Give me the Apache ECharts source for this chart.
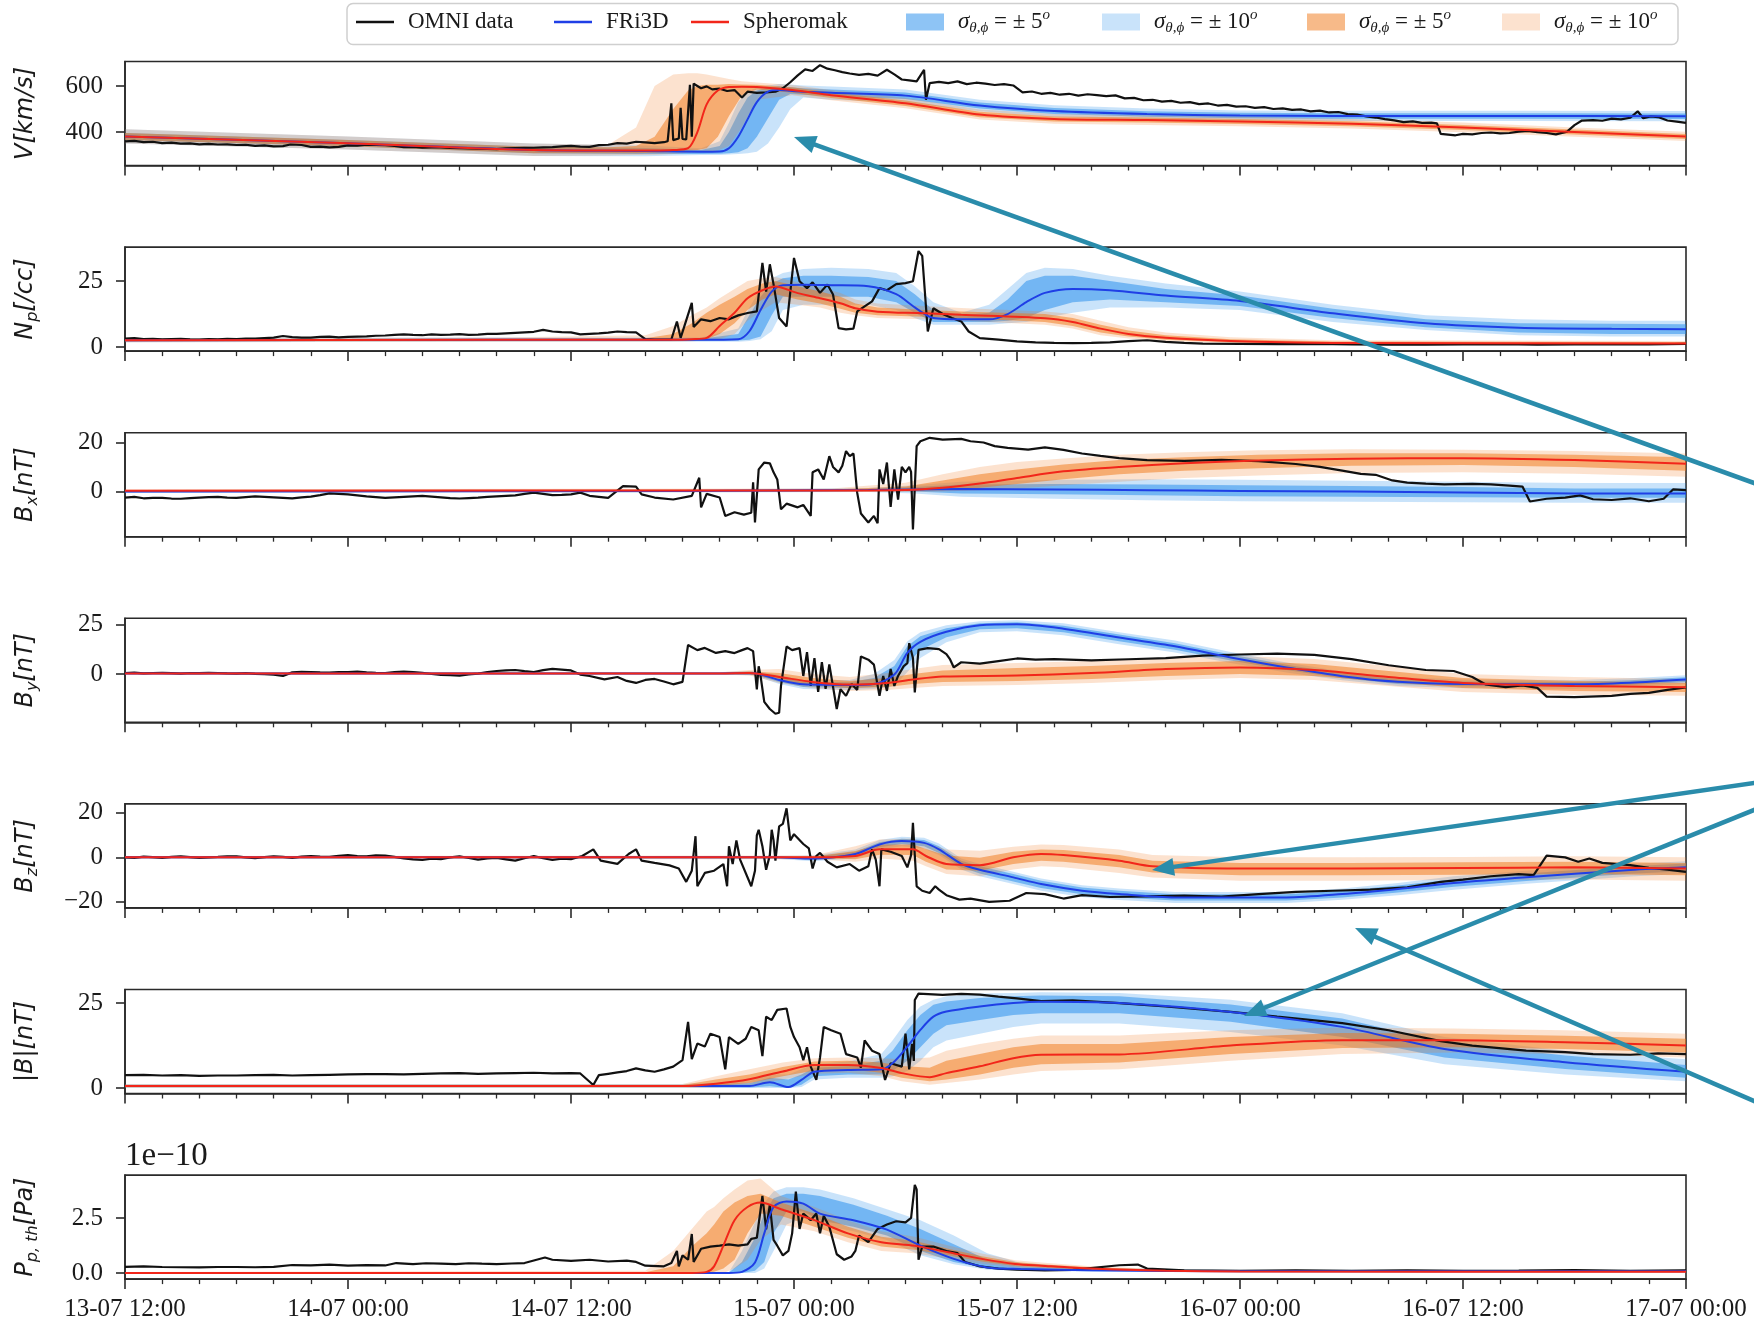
<!DOCTYPE html>
<html>
<head>
<meta charset="utf-8">
<script src="https://cdn.jsdelivr.net/npm/echarts@6/dist/echarts.min.js"></script>
<style>
html,body{margin:0;padding:0;background:#ffffff;}
#chart{width:1754px;height:1326px;}
</style>
</head>
<body>
<div id="chart"></div>
<script>
// ---- time axis: hours after 13-07 12:00 ----
const TIME_LABELS = ['13-07 12:00','14-07 00:00','14-07 12:00','15-07 00:00','15-07 12:00','16-07 00:00','16-07 12:00','17-07 00:00'];

// ---- y tick values per panel ----
const V_TICKS = [400, 600];
const NP_TICKS = [0, 25];
const BX_TICKS = [0, 20];
const BY_TICKS = [0, 25];
const BZ_TICKS = [-20, 0, 20];
const B_TICKS = [0, 25];
const P_TICKS = [0, 2.5];

// ---- OMNI measurements: [hour, value] ----
const OMNI_V = [[0,360],[0.5,362],[1,356],[1.5,358],[2,352],[2.5,354],[3,350],[3.5,351],[4,347],[4.5,349],[5,346],[5.5,347],[6,344],[6.5,345],[7,340],[7.5,342],[8,338],[8.5,339],[8.9,346],[9.5,344],[10,336],[10.5,337],[11,334],[11.5,336],[12,342],[12.5,341],[13,345],[13.5,344],[14,343],[14.5,340],[15,335],[15.5,336],[16,332],[16.5,334],[17,334],[17.5,331],[18,330],[18.5,329],[19,328],[19.5,327],[20,326],[20.5,329],[21,330],[21.5,331],[22,332],[22.5,334],[23,335],[23.5,338],[24,340],[24.5,337],[25,336],[25.5,343],[26,345],[26.5,352],[27,350],[27.5,358],[28,355],[28.5,352],[29,356],[29.2,360],[29.4,525],[29.5,365],[29.8,372],[29.9,505],[30.0,370],[30.2,368],[30.4,605],[30.5,380],[30.6,610],[30.8,600],[31,590],[31.3,598],[31.6,585],[32,588],[32.4,578],[32.8,582],[33.2,550],[33.5,575],[34,570],[34.5,572],[35,575],[35.4,590],[35.8,616],[36.2,646],[36.6,672],[37,665],[37.4,690],[37.8,675],[38.2,668],[38.6,660],[39,654],[39.5,648],[40,652],[40.5,645],[41,670],[41.4,650],[41.8,628],[42.2,624],[42.6,620],[43.0,670],[43.1,540],[43.3,612],[43.8,618],[44.3,612],[44.8,620],[45.3,608],[45.8,614],[46.3,610],[46.8,604],[47.3,608],[47.8,602],[48.3,572],[48.8,576],[49.3,566],[49.8,570],[50.3,562],[50.8,566],[51.3,558],[51.8,564],[52.3,560],[52.8,556],[53.3,559],[53.8,546],[54.3,548],[54.8,538],[55.3,540],[55.8,532],[56.3,535],[56.8,527],[57.3,530],[57.8,521],[58.3,524],[58.8,515],[59.3,518],[59.8,510],[60.3,512],[60.8,505],[61.3,508],[61.8,500],[62.3,503],[62.8,496],[63.3,498],[63.8,490],[64.3,493],[64.8,485],[65.3,487],[65.8,478],[66.3,476],[66.8,468],[67.3,463],[67.8,456],[68.3,451],[68.8,443],[69.3,446],[69.8,440],[70.3,441],[70.6,438],[70.8,392],[71.2,389],[71.6,386],[72.0,392],[72.5,390],[73.0,396],[73.5,398],[74.0,394],[74.5,396],[75.0,402],[75.5,405],[76,400],[76.5,396],[77,390],[77.6,402],[78,430],[78.4,450],[79,452],[79.5,449],[80,458],[80.5,455],[81,462],[81.4,490],[81.7,460],[82.1,468],[82.5,465],[83,450],[83.5,445],[84,440]];

const OMNI_NP = [[0,3.2],[0.5,3.4],[1,3.0],[1.5,3.1],[2,2.9],[2.5,3.0],[3,3.1],[3.5,2.9],[4,2.8],[4.5,3.0],[5,2.9],[5.5,3.1],[6,3.0],[6.5,3.2],[7,3.2],[7.5,3.4],[8,3.6],[8.5,4.2],[9,3.8],[9.5,3.6],[10,3.6],[10.5,3.9],[11,4.0],[11.5,3.7],[12,3.9],[12.5,4.0],[13,4.1],[13.5,4.3],[14,4.4],[14.5,4.6],[15,4.8],[15.5,4.6],[16,4.5],[16.5,4.8],[17,4.6],[17.5,4.7],[18,4.9],[18.5,4.6],[19,4.7],[19.5,5.0],[20,5.0],[20.5,5.2],[21,5.4],[21.5,5.6],[22,5.8],[22.5,6.5],[23,5.9],[23.5,5.7],[24,5.6],[24.5,4.8],[25,5.0],[25.5,5.2],[26,5.5],[26.5,5.9],[27,5.7],[27.5,5.6],[28,3.0],[28.5,2.8],[29.4,2.9],[29.7,9.7],[29.9,3.5],[30.5,16.7],[30.6,7.6],[31,10.5],[31.5,9.8],[32,11],[32.5,10.5],[33,12],[33.5,12.9],[34,13.5],[34.3,31.8],[34.5,21],[34.7,31.3],[34.9,23.7],[35.2,11],[35.6,7.8],[36.0,33.7],[36.3,24.9],[36.7,22.3],[37.0,24.5],[37.4,20.5],[37.8,23.7],[38.1,19.9],[38.4,7.2],[38.8,6.7],[39.2,7.0],[39.4,13.5],[39.8,15.4],[40.2,17.3],[40.6,22.3],[41,21.5],[41.5,23.8],[42,24.2],[42.4,24.9],[42.7,36.3],[42.9,34.5],[43.2,5.9],[43.5,14.7],[44,12.5],[44.5,11],[45,9.7],[45.4,5.9],[46,3.4],[47,2.8],[48,2.2],[49,1.8],[50,1.6],[51,1.5],[52,1.6],[53,1.8],[54,2.3],[55,2.6],[56,2.0],[57,1.6],[58,1.3],[60,1.2],[62,1.1],[64,1.2],[66,1.0],[68,0.9],[70,0.9],[72,1.0],[74,1.1],[76,0.9],[78,1.0],[80,1.1],[82,1.0],[84,1.2]];

const OMNI_BX = [[0,-2.5],[0.5,-2.2],[1,-2.8],[1.5,-2.6],[2,-2.6],[2.5,-2.9],[3,-3.0],[3.5,-2.7],[4,-2.5],[4.5,-2.3],[5,-2.2],[5.5,-2.5],[6,-2.6],[6.5,-2.3],[7,-2.0],[7.5,-2.2],[8,-2.4],[8.5,-2.6],[9,-2.8],[9.5,-2.4],[10,-2.1],[10.5,-1.5],[11,-0.8],[11.5,-1.0],[12,-1.2],[12.5,-1.6],[13,-2.0],[13.5,-2.3],[14,-2.6],[14.5,-2.4],[15,-2.2],[15.5,-2.0],[16,-1.8],[16.5,-2.1],[17,-2.4],[17.5,-2.7],[18,-2.9],[18.5,-2.7],[19,-2.5],[19.5,-2.2],[20,-2.0],[20.5,-1.8],[21,-1.6],[21.5,-1.0],[22,-0.5],[22.5,-1.0],[23,-1.5],[23.5,-1.4],[24,-1.2],[24.5,-0.5],[25,-1.8],[26,-2.6],[26.8,2.2],[27.5,2.0],[27.8,-1.2],[28.5,-2.5],[29.5,-3.3],[30.5,-1.8],[30.9,5.6],[31.0,-6.5],[31.3,-1.0],[32,-2.5],[32.3,-10],[32.8,-8.5],[33.3,-9.5],[33.7,-8.7],[33.8,3.7],[33.9,-12.7],[34.1,9],[34.4,11.8],[34.7,11.5],[34.9,7.8],[35.1,4.9],[35.3,-7.3],[35.6,-5],[36.2,-6.5],[36.5,-5.5],[36.9,-10],[37.0,7.8],[37.3,9],[37.6,4.9],[37.9,14.4],[38.1,10],[38.4,7.8],[38.6,10.5],[38.8,16.5],[39.0,14.4],[39.2,15.5],[39.4,-0.5],[39.6,-9],[40.0,-12.7],[40.3,-10],[40.5,-13],[40.6,9],[40.8,3],[41.0,11.8],[41.2,-6.3],[41.4,9],[41.6,-3.3],[41.8,10],[42.0,7.8],[42.2,10],[42.3,8],[42.4,-15.5],[42.6,18.5],[42.8,20.5],[43.3,21.9],[44,21.2],[45,21.5],[45.5,20.5],[46.2,20],[46.8,18.5],[47.5,17.8],[48.6,17.1],[49.5,18],[50.5,17],[51.5,15.5],[52.5,14.5],[53.5,13.6],[55,12.8],[57,12.5],[59,12.9],[61,12.4],[63,11.2],[64.3,10],[65.5,8.5],[66.5,7.2],[67.3,6.8],[68.2,4.5],[69,3.6],[70,3.2],[71,2.9],[72.5,3.1],[73.5,2.9],[74.5,2.4],[75.2,2.0],[75.6,-4.1],[76.5,-3.0],[77.5,-2.5],[78.3,-1.6],[79,-3.2],[80,-3.5],[81,-2.8],[82,-4.0],[82.8,-3.0],[83.3,0.8],[84,0.5]];

const OMNI_BY = [[0,0.5],[0.5,0.7],[1,0.3],[1.5,0.5],[2,0.6],[2.5,0.4],[3,0.2],[3.5,0.5],[4,0.4],[4.5,0.6],[5,0.5],[5.5,0.3],[6,0.2],[6.5,0.4],[7,0.1],[7.5,-0.1],[8,-0.3],[8.5,-1.0],[9,0.8],[9.5,1.1],[10,1.0],[10.5,0.8],[11,0.7],[11.5,0.9],[12,1.0],[12.5,1.2],[13,0.8],[13.5,0.6],[14,0.5],[14.5,0.9],[15,1.2],[15.5,0.9],[16,0.6],[16.5,0.0],[17,-0.5],[17.5,-0.6],[18,-0.8],[18.5,-0.2],[19,0.2],[19.5,0.9],[20,1.5],[20.5,1.8],[21,2.0],[21.5,1.4],[22,1.0],[22.5,1.9],[23,2.6],[23.5,2.2],[24,1.8],[24.5,-0.3],[25,-1.0],[25.8,-2.7],[26.5,-1.5],[27,-3.5],[27.5,-4.5],[28,-3.0],[28.5,-2.5],[29,-3.8],[29.5,-5.2],[30.0,-4.0],[30.3,14.6],[30.8,12],[31.2,13.1],[31.8,10.6],[32.3,11.5],[32.8,10.5],[33.2,12],[33.5,13],[33.8,11.5],[34.0,-7.7],[34.1,3.9],[34.2,-1],[34.4,-14],[34.7,-17.6],[35.0,-20],[35.2,-19.5],[35.3,-6],[35.6,13.8],[35.9,12],[36.3,13],[36.5,-1],[36.7,11],[36.9,-6],[37.1,8],[37.3,-9],[37.5,6],[37.7,-7.5],[37.9,4.8],[38.3,-17.6],[38.5,-7.7],[38.8,-11],[39.1,-5],[39.4,-8],[39.6,8.8],[40.0,7.2],[40.3,4.7],[40.6,-11],[40.8,-1],[41.0,-8.5],[41.2,2.5],[41.4,-6],[41.6,-1],[41.9,3.9],[42.1,5.5],[42.2,15.5],[42.4,8],[42.5,-9.3],[42.7,12.1],[43.2,13],[43.8,12.5],[44.2,10],[44.4,7.3],[44.6,3.3],[45,5.9],[46,5.2],[47,6.5],[48,7.8],[49,7.2],[50,7.5],[52,6.8],[54,7.4],[56,8.0],[58,9.2],[60,9.8],[62,10.2],[64,9.6],[66,7.5],[68,4.4],[70,2.0],[71.5,1.5],[72.5,-1.5],[73.2,-5.2],[74.3,-6.6],[75.2,-5.8],[76.0,-7.0],[76.5,-11.4],[78,-11.6],[80,-11.0],[81,-10.0],[82,-9.5],[83,-8.0],[84,-6.8]];

const OMNI_BZ = [[0,0],[0.5,-0.2],[1,0.3],[1.5,0.1],[2,-0.2],[2.5,0.2],[3,0.5],[3.5,0.1],[4,-0.3],[4.5,0.0],[5,0.2],[5.5,0.5],[6,0.4],[6.5,0.0],[7,-0.4],[7.5,0.1],[8,0.5],[8.5,0.2],[9,-0.2],[9.5,0.3],[10,0.6],[10.5,0.3],[11,0.2],[11.5,0.7],[12,1.0],[12.5,0.6],[13,0.4],[13.5,0.9],[14,0.8],[14.5,0.2],[15,-0.5],[15.5,-0.9],[16,-1.2],[16.5,-0.6],[17,-0.8],[17.5,0.0],[18,0.5],[18.5,-0.3],[19,-1.0],[19.5,-0.5],[20,-0.3],[20.5,-0.9],[21,-1.5],[21.5,-0.4],[22,0.6],[22.5,-0.4],[23,-1.2],[23.5,-0.6],[24,-0.8],[24.6,0.6],[25.2,3.6],[25.6,-1.5],[26.5,-2.9],[27.1,1.5],[27.5,3.6],[27.8,-1.5],[28.5,-2.5],[29.3,-3.6],[29.8,-5],[30.2,-11],[30.5,-6],[30.7,9.5],[30.8,-13],[31.2,-7],[31.7,-6],[32.2,-3],[32.4,-13],[32.5,5],[32.7,-3],[32.9,7.6],[33.1,-1],[33.7,-13],[33.9,-6],[34.0,9.9],[34.1,12.4],[34.3,5],[34.5,-5.6],[34.7,1],[34.8,12.4],[34.9,7.6],[35.0,-1.5],[35.2,13.9],[35.4,15],[35.6,22],[35.8,7.6],[36.0,10.4],[36.5,6],[36.8,4],[37.0,-5],[37.2,0.6],[37.4,2],[37.8,-2],[38.3,-4.5],[39,-3],[39.5,-6],[40,-4],[40.2,3.6],[40.4,-1],[40.6,-13],[40.7,3.6],[41.2,2.5],[41.8,0.6],[42.1,-4.5],[42.3,1],[42.4,15.5],[42.5,1],[42.6,-13],[42.9,-15],[43.3,-16],[43.6,-13],[43.8,-14.5],[44.2,-17],[44.9,-19],[45.5,-18.5],[46.5,-20],[47.6,-19.5],[48.5,-16],[49.5,-16.5],[50.5,-18.5],[51.5,-17],[53,-17.8],[55,-17.5],[57,-17.2],[59,-17.6],[61,-16.5],[63,-15.5],[65,-15],[67,-14.5],[69,-13.5],[70.8,-11],[72,-10],[73.5,-8.5],[75,-7.5],[75.8,-8],[76.5,0.8],[77.5,0],[78.2,-2],[78.8,-0.5],[79.5,-2.5],[81,-3.5],[82,-4.7],[83,-5.5],[84,-6.5]];

const OMNI_B = [[0,3.8],[1,3.9],[2,3.7],[3,3.8],[4,3.6],[5,3.7],[6,3.7],[7,3.8],[8,3.9],[9,3.7],[10,3.8],[11,3.9],[12,4.0],[13,4.1],[14,4.1],[15,4.0],[16,4.2],[17,4.3],[18,4.4],[19,4.2],[20,4.3],[21,4.4],[22,4.5],[23,4.3],[24,4.4],[24.5,4.3],[25.2,0.9],[25.5,3.8],[26,4.2],[26.5,4.6],[27,5.0],[27.5,5.8],[28,5.2],[28.5,4.8],[29,5.5],[29.5,6.3],[30.0,8.2],[30.3,19.5],[30.5,8.5],[30.8,13.1],[31.2,12.2],[31.5,16],[32.0,15],[32.3,5.5],[32.5,15],[33.0,13],[33.4,14.5],[33.7,18],[34.1,17],[34.3,9.4],[34.5,21],[34.8,20],[35.1,23],[35.6,23.4],[35.8,18],[36.0,15],[36.3,12],[36.5,8.2],[36.7,12],[36.9,6.3],[37.2,2.4],[37.4,9],[37.6,18],[38,17],[38.5,16],[38.8,10],[39.4,9],[39.6,6],[39.8,14],[40.2,11],[40.6,10],[40.9,2.4],[41.2,7.3],[41.8,6.3],[42.0,16],[42.2,5.5],[42.35,13],[42.45,8],[42.5,25.9],[42.7,27.8],[44,27.4],[45,27.7],[46,27.5],[47,26.9],[48,26.4],[49.3,25.6],[51,25.8],[53.5,25],[56,24],[59.5,22.4],[62,21],[65.5,19.1],[68,17],[70.8,13.8],[72.5,12.5],[75.4,11],[77.5,10.6],[79,10],[81,9.8],[82.5,10.2],[84,10]];

// thermal pressure, in units of 1e-10 Pa
const OMNI_P = [[0,0.28],[1,0.30],[2,0.27],[3,0.26],[4,0.25],[5,0.27],[6,0.27],[7,0.26],[8,0.28],[9,0.36],[10,0.34],[11,0.38],[12,0.33],[13,0.36],[14,0.34],[14.6,0.45],[15.5,0.40],[16.2,0.44],[17,0.42],[17.8,0.40],[18.5,0.44],[19.2,0.42],[20,0.40],[20.8,0.43],[21.5,0.45],[22.6,0.7],[23,0.6],[24,0.55],[25,0.6],[26,0.52],[27,0.56],[27.5,0.5],[28,0.33],[29,0.3],[29.4,0.45],[29.7,1.0],[29.8,0.3],[30,0.8],[30.3,0.6],[30.5,1.77],[30.6,0.5],[31,1.1],[31.5,1.2],[32,1.24],[32.5,1.3],[33,1.24],[33.5,1.3],[33.7,1.55],[34.0,1.6],[34.3,3.5],[34.5,1.98],[34.7,3.1],[34.9,1.5],[35.1,1.24],[35.4,0.8],[35.7,1.0],[35.9,1.8],[36.1,3.7],[36.3,2.0],[36.5,2.7],[36.9,2.4],[37.2,2.7],[37.4,1.8],[37.6,2.6],[37.9,2.1],[38.3,0.85],[38.7,0.6],[39.1,0.75],[39.3,1.0],[39.5,1.7],[40,1.4],[40.5,2.0],[41,2.2],[41.5,2.35],[42,2.3],[42.3,2.5],[42.5,4.0],[42.6,3.8],[42.7,0.6],[42.9,1.2],[43.5,1.2],[44.2,1.0],[44.8,0.9],[45.2,0.5],[46,0.3],[47,0.2],[48,0.15],[49.5,0.12],[51,0.14],[53.5,0.35],[54.5,0.38],[55,0.2],[57,0.12],[60,0.1],[63,0.12],[66,0.1],[69,0.12],[72,0.1],[75,0.11],[78,0.13],[81,0.1],[84,0.12]];

// ---- model runs: [hour, centre, low±5°, high±5°, low±10°, high±10°] ----
const FRI_V = [[0,381,366,396,350,412],[12,352,338,366,324,381],[22,322,308,336,296,350],[28,318,305,331,295,342],[31,315,305,322,300,330],[32,316,306,340,301,360],[32.5,330,308,400,303,440],[33,380,312,480,305,530],[33.5,455,330,550,308,575],[34,530,380,580,315,592],[34.6,575,460,592,350,602],[35.2,582,540,598,420,608],[35.8,579,565,594,500,606],[36.5,575,562,590,550,602],[38,570,555,585,540,598],[42,558,543,572,528,585],[46,515,502,528,490,540],[50,491,478,504,465,516],[55,478,466,490,455,502],[60,472,460,484,450,494],[65,470,458,482,448,492],[70,470,458,482,448,492],[75,470,458,482,448,492],[84,469,457,481,447,491]];
const SPH_V = [[0,381,366,396,350,412],[12,352,338,366,324,381],[22,322,308,336,296,350],[26,320,308,334,298,345],[27.5,320,308,340,300,420],[28.5,320,310,380,302,600],[29.5,322,314,500,305,650],[30.3,330,320,580,310,655],[30.8,400,322,600,312,655],[31.3,520,330,605,315,650],[31.9,580,380,605,320,640],[32.5,595,470,608,340,630],[33.2,597,560,606,420,620],[34,595,585,605,540,615],[35.9,582,570,594,560,604],[38,560,548,572,538,582],[42,525,513,537,503,548],[46,476,464,488,454,498],[50,457,446,468,436,478],[55,452,441,463,431,473],[60,446,435,457,425,467],[66,436,425,447,415,457],[72,420,409,431,399,441],[78,400,389,411,380,420],[84,381,370,392,361,401]];

const FRI_NP = [[0,2.6,2.2,3.0,1.8,3.4],[20,2.8,2.4,3.2,2.0,3.6],[31,2.8,2.4,3.2,2.0,3.6],[33,3.0,2.5,5,2.0,7],[33.6,6,2.8,12,2.3,15],[34.2,14,4,19,3,22],[34.8,21,12,24,6,26],[35.4,23.4,19,26,14,28],[36.5,23.6,19,27,16,29.5],[38,23.4,19,27,16,30],[40,23,19,26.5,16,29.5],[41.5,20,17,25,14,28],[42.5,15,13,20,11,23],[43.5,11,9.5,14,8.5,17],[45,10.5,9.5,12,8.5,13],[46.5,10.5,9.5,13,8.5,16],[47.5,12.5,10,18,9,22],[48.5,17,11,25,9.5,28],[49.5,20.5,14,27,11,30],[51,22,17,27,13,29.5],[53,21.5,18,25,15,27],[56,19.5,17,22,15,24],[60,17.4,15.5,19.5,14,21],[65,12.8,11,14.5,9.5,16],[70,9,7.5,10.5,6.5,12],[75,7.3,5.5,9,4.5,10.5],[80,6.9,5,8.8,4,10],[84,6.8,5,8.6,4,10]];
const SPH_NP = [[0,2.6,2.2,3.0,1.8,3.4],[20,2.8,2.4,3.2,2.0,3.6],[28,2.8,2.4,3.4,2.0,4.5],[29.5,2.8,2.4,5,2.0,8],[30.5,3.0,2.5,9,2.2,12],[31.3,3.5,3,13,2.5,15],[32,8,5,16,3,18.5],[32.8,13,9,19,5,22],[33.5,18.5,14,22,10,25],[34.3,21.5,18,24,14,26],[35,22.9,20,25,17,26.5],[36.2,20.4,18,23,16,24.5],[37.4,18.5,16.5,21,15,22.5],[38.5,16.6,14.5,19,13,20.5],[39.3,14.7,13,16.5,12,18],[40.5,13.4,12,15,11,16.5],[43,12.8,11.5,14,10.5,15.5],[45,12.2,11,13.5,10,14.8],[49.5,10.9,9.5,12.5,8.5,13.5],[51,9.5,8,11,7,12.5],[52.5,7,5.5,8.5,4.5,10],[54,5,4,6.3,3.3,7.5],[56,3.5,2.8,4.5,2.3,5.5],[59.5,2.3,1.8,3,1.5,3.7],[65,1.6,1.2,2.1,0.9,2.6],[84,1.4,1.0,1.9,0.8,2.3]];

const FRI_BX = [[0,0,-0.3,0.3,-0.6,0.6],[30,0.2,-0.1,0.5,-0.4,0.8],[40,0.6,0.2,1.0,-0.2,1.4],[42.5,0.8,0,1.8,-0.8,2.5],[45,1.0,-0.8,2.8,-2.2,4],[50,0.8,-1.2,3,-3,4.8],[55,0.5,-1.6,2.8,-3.6,5],[60,0.2,-2,2.5,-4,4.8],[66,0,-2.2,2.2,-4.2,4.4],[72,-0.4,-2.4,1.8,-4.4,4],[78,-0.8,-2.6,1.2,-4.6,3.4],[84,-0.8,-2.6,1.2,-4.6,3.4]];
const SPH_BX = [[0,0.3,0,0.6,-0.3,0.9],[38,0.4,0.1,0.8,-0.2,1.2],[42,0.6,0.2,2,-0.2,3.5],[44,1.5,0.5,4.5,0,7],[46,3.2,1.5,7,0.5,10],[48,5.5,3,9,1.2,12],[50.5,8.2,5,11,2.5,13.5],[53.5,10,7,12.8,4,15],[57,11.5,8.5,14,5.5,16],[61,12.6,9.5,15,6.5,16.8],[66,13.4,10.5,15.6,7.5,17.2],[72,13.6,10.8,15.6,7.8,17],[78,12.8,10,15,7.2,16.5],[84,11.3,8.5,14,6,15.5]];

const FRI_BY = [[0,0.3,0,0.6,-0.3,0.9],[32,0.3,0,0.6,-0.3,0.9],[33.8,0.4,-0.2,1,-0.6,1.6],[35.2,-3,-4,-1.5,-5,-0.5],[36.5,-5.2,-6.5,-4,-7.5,-3],[39,-5.5,-7,-4.2,-8,-3],[40.3,-5,-6.5,-2,-7.5,0],[41.4,-0.3,-4,4,-6,7],[42.1,10.6,5,14,1,16.5],[42.8,16.2,12,19,8,21],[44.2,21.2,18.5,23,16,24.5],[46,24.5,22.5,25.5,21,26.5],[48,25,23,26,21.5,27],[50.5,22.8,21,24.2,19.5,25.5],[53.5,18.3,16.5,19.8,15,21],[56.5,13.9,12.2,15.4,10.8,16.8],[59.5,8.3,6.8,9.8,5.5,11],[62.5,3.3,2,4.6,0.8,5.8],[65.5,-1.1,-2.2,0.2,-3.2,1.2],[68.5,-3.9,-5,-2.7,-6,-1.6],[72,-5,-6.2,-3.8,-7.2,-2.8],[78,-5.2,-6.4,-4,-7.4,-3],[81,-4.4,-5.6,-3.2,-6.6,-2.2],[84,-2.8,-4,-1.6,-5,-0.6]];
const SPH_BY = [[0,0.3,0,0.6,-0.3,0.9],[32,0.3,0,0.6,-0.3,0.9],[33.6,0.5,-0.2,1.2,-0.8,2],[35.2,-1.5,-3,0.5,-4.5,2.5],[37,-4,-5.8,-2,-7.2,0],[39,-5.3,-7,-3.5,-8.5,-1.5],[41,-4.5,-6.5,-2,-8,0.5],[42.4,-2.8,-5,0,-7,2.5],[44,-1.3,-4,1.8,-6,4.5],[48,-0.8,-3.5,3,-5.5,5.5],[52,0.5,-2.5,4,-4.5,6.5],[56,2.5,-1,5.5,-3,8],[60,3.3,0,6.5,-2,9],[64,2,-1,5,-3,7.5],[68,-1.5,-4,1.5,-6,4],[72,-4.5,-7,-2,-9,0],[78,-6,-8.5,-3.5,-10.5,-1.5],[84,-6.7,-9,-4.5,-11,-2.5]];

const FRI_BZ = [[0,0,-0.3,0.3,-0.6,0.6],[35,0,-0.3,0.3,-0.6,0.6],[37,-0.5,-1.2,0.3,-1.8,0.8],[39.3,1.5,0.5,2.5,-0.5,3.5],[40.6,5.8,4.5,6.8,3.5,7.8],[41.8,7.3,6,8.3,5,9.2],[43,6.5,5,7.8,4,8.8],[43.8,3.6,2,5,1,6.2],[45,-2.9,-4.5,-1.5,-5.5,-0.5],[46,-5.6,-7.3,-4,-8.5,-3],[47.8,-9,-10.8,-7.5,-12,-6.5],[49.3,-12,-13.8,-10.5,-15,-9.5],[51.5,-15,-16.6,-13.5,-17.8,-12.5],[53.5,-16.5,-18,-15,-19.2,-14],[56.5,-18,-19.4,-16.6,-20.5,-15.6],[62.5,-18,-19.4,-16.6,-20.5,-15.6],[65.5,-16.5,-18,-15,-19,-14],[68.5,-14.2,-15.8,-12.6,-17,-11.5],[71.5,-11.5,-13.2,-9.8,-14.5,-8.5],[75.4,-8.9,-10.6,-7.2,-11.8,-6],[81,-5.7,-7.4,-4,-8.6,-3],[84,-4.5,-6.2,-2.8,-7.4,-1.8]];
const SPH_BZ = [[0,0,-0.3,0.3,-0.6,0.6],[37,0,-0.4,0.4,-0.8,0.8],[39.3,0.6,-0.8,2.8,-2,5],[40.6,3.6,1.2,5.8,-0.5,8],[42.4,3.6,1,5.8,-1.5,8.5],[43.1,0.6,-2,3.8,-4,6.5],[44.2,-3,-5.5,0.8,-7.5,3.5],[46,-3.5,-6,-0.2,-8.5,3],[47.8,0,-3,2.5,-5.5,4.8],[49.3,1.5,-1.5,3.5,-4,5.8],[50.5,1,-2,3.3,-4.5,5.5],[53.5,-1.5,-4.5,1,-7,3.5],[55.3,-4,-6.8,-1.5,-9,1],[60,-5,-8,-2.5,-10.5,0],[66,-5,-8,-2.5,-10.5,0],[72,-4.8,-7.8,-2.2,-10.2,0.2],[78,-4.5,-7.5,-2,-10,0.5],[84,-5,-8,-2.5,-10.5,0]];

const FRI_B = [[0,0.6,0.3,0.9,0,1.2],[30,0.6,0.3,0.9,0,1.2],[33.6,0.6,0.2,1.4,0,2],[34.7,1.7,0.5,3,0,4],[35.7,0.3,0,2.5,0,4],[36.4,2.4,1,4,0.3,5.5],[37.1,4.8,3.5,6,2.5,7],[38.9,5.3,4,6.5,3,7.8],[40.7,5.5,4,8,3,10],[41.3,7.3,5,11,3.5,14],[42.1,12.2,8,17,5,20],[42.8,17.1,12,21.5,8,24],[43.5,21,16,24.5,12,26],[44.2,22.5,18.5,25.5,14,27],[46,24,20,26.5,16,27.8],[47.8,25,21.5,27,18,28],[49.3,25.4,22,27.2,19,28.2],[53.5,25,22,27,19,28],[59.5,22.4,19.5,24.6,16.5,26],[65.5,18,15,20.5,12.5,22],[71,11.5,9,13.5,7,15],[77.5,7.6,5.6,9.6,4,11],[84,4.8,3,6.8,2,8.5]];
const SPH_B = [[0,0.6,0.3,0.9,0,1.2],[30,0.6,0.3,0.9,0,1.2],[31.8,1.3,0.6,2.5,0.2,3.5],[33.6,2.6,1.5,4,0.8,5.5],[35.4,4.9,3.5,6.2,2.5,7.5],[37.1,6.8,5.2,7.8,4.2,8.8],[38.9,6.8,5.5,8,4.5,9],[40.7,5.9,4.5,7.5,3.5,8.8],[41.8,4.4,3,6.5,2,8.5],[43.3,3.2,2,6,1,9],[44.2,4.4,2.5,8,1.5,11],[46,6.4,4,10,2.5,13],[47.8,8.8,6,12,4,14.5],[49.3,9.8,7,13,5,15.5],[53.5,9.9,7.5,13,5.5,15.5],[59.5,12.5,10,15,8,17],[65.5,14.1,11.8,16.2,10,17.8],[71.5,14.1,12,16,10.5,17.5],[77.5,13.5,11.5,15.4,10,17],[84,12.5,10.5,14.5,9,16]];

const FRI_P = [[0,0,0,0.02,0,0.04],[32.5,0,0,0.02,0,0.04],[33.2,0.05,0,0.5,0,1],[33.9,0.48,0.1,1.6,0,2.3],[34.4,1.8,0.5,2.7,0.2,3.2],[34.9,3.0,1.8,3.4,1,3.7],[35.6,3.25,2.8,3.6,2.2,3.9],[36.5,3.15,2.8,3.6,2.5,3.9],[37.4,2.7,2.4,3.5,2.2,3.8],[39.2,2.4,2.1,3.1,1.9,3.4],[41,1.97,1.7,2.6,1.5,2.9],[42.8,1.24,1.0,2.0,0.8,2.4],[44.6,0.64,0.5,1.3,0.4,1.7],[46.4,0.25,0.2,0.6,0.15,0.9],[48.2,0.18,0.12,0.3,0.1,0.45],[52,0.12,0.08,0.18,0.06,0.22],[60,0.08,0.05,0.12,0.04,0.15],[84,0.08,0.05,0.12,0.04,0.15]];
const SPH_P = [[0,0,0,0.02,0,0.04],[28,0,0,0.03,0,0.1],[29.5,0,0,0.3,0,1],[30.5,0,0,1.2,0,2],[31.3,0.05,0,1.8,0,2.8],[31.7,0.3,0.05,2.2,0,3],[32.2,1.24,0.2,2.8,0,3.4],[32.8,2.4,0.6,3.2,0.2,3.8],[33.5,3.0,1.8,3.5,0.6,4.2],[34.2,3.2,2.7,3.6,1.5,4.3],[35.3,2.9,2.6,3.2,2.2,3.5],[37.1,2.4,2.1,2.7,1.9,3.0],[38.9,1.8,1.6,2.1,1.4,2.4],[40.7,1.4,1.2,1.65,1.0,1.9],[42.5,1.24,1.05,1.45,0.9,1.65],[44.3,0.94,0.8,1.1,0.65,1.25],[46.1,0.64,0.52,0.76,0.42,0.88],[47.9,0.41,0.32,0.5,0.25,0.58],[49.3,0.33,0.25,0.4,0.2,0.47],[52,0.2,0.15,0.26,0.12,0.3],[56,0.1,0.07,0.14,0.05,0.17],[60,0.06,0.04,0.09,0.03,0.11],[84,0.05,0.03,0.08,0.02,0.1]];

// ---- panel configuration ----
const PANELS = [
  { omni: OMNI_V,  fri: FRI_V,  sph: SPH_V,  min: 255,   max: 706,  ticks: V_TICKS,  dec: 0, name: '{m|V[km/s]}' },
  { omni: OMNI_NP, fri: FRI_NP, sph: SPH_NP, min: -1.5,  max: 37.8, ticks: NP_TICKS, dec: 0, name: '{m|N}{sb|p}{m|[/cc]}' },
  { omni: OMNI_BX, fri: FRI_BX, sph: SPH_BX, min: -18.5, max: 24,   ticks: BX_TICKS, dec: 0, name: '{m|B}{sb|x}{m|[nT]}' },
  { omni: OMNI_BY, fri: FRI_BY, sph: SPH_BY, min: -24.3, max: 28,   ticks: BY_TICKS, dec: 0, name: '{m|B}{sb|y}{m|[nT]}' },
  { omni: OMNI_BZ, fri: FRI_BZ, sph: SPH_BZ, min: -22.7, max: 24,   ticks: BZ_TICKS, dec: 0, name: '{m|B}{sb|z}{m|[nT]}' },
  { omni: OMNI_B,  fri: FRI_B,  sph: SPH_B,  min: -1.6,  max: 29,   ticks: B_TICKS,  dec: 0, name: '{m||B|[nT]}' },
  { omni: OMNI_P,  fri: FRI_P,  sph: SPH_P,  min: -0.28, max: 4.45, ticks: P_TICKS,  dec: 1, name: '{m|P}{sb|p, th}{m|[Pa]}' }
];

// ---- styling ----
const SERIF = 'Liberation Serif';
const INK = '#1a1a1a';
const C_OMNI = '#111111', C_FRI = '#1f3fe6', C_SPH = '#f2261a';
const C_FRI5 = 'rgba(30,138,235,0.50)', C_FRI10 = 'rgba(30,138,235,0.24)';
const C_SPH5 = 'rgba(240,118,20,0.50)', C_SPH10 = 'rgba(240,125,35,0.22)';
const ARROW = '#2a8cab';

const GRID_LEFT = 125, GRID_RIGHT = 68, GRID_TOP0 = 61.5, GRID_STEP = 185.6, GRID_H = 104;

const fmtTick = dec => v => Number(v).toFixed(dec).replace('-', '\u2212');

const grids = [], xAxes = [], yAxes = [], series = [];

function bandSeries(rows, lo, hi, name, color, gi) {
  return {
    type: 'custom', name, xAxisIndex: gi, yAxisIndex: gi, silent: true, z: 1,
    itemStyle: { color },
    data: [[rows[0][0], rows[0][lo]]],
    renderItem: (params, api) => {
      const upper = rows.map(r => api.coord([r[0], r[hi]]));
      const lower = rows.map(r => api.coord([r[0], r[lo]])).reverse();
      return { type: 'polygon', shape: { points: upper.concat(lower) }, style: { fill: color } };
    }
  };
}

PANELS.forEach((p, gi) => {
  grids.push({
    left: GRID_LEFT, right: GRID_RIGHT, top: GRID_TOP0 + GRID_STEP * gi, height: GRID_H,
    show: true, borderColor: '#2a2a2a', borderWidth: 1.6, backgroundColor: 'transparent'
  });
  const last = gi === PANELS.length - 1;
  xAxes.push({
    type: 'value', gridIndex: gi, min: 0, max: 84, interval: 12,
    axisLine: { show: true, onZero: false, lineStyle: { color: '#2a2a2a', width: 1.6 } },
    axisTick: { show: true, length: 10, lineStyle: { color: '#2a2a2a', width: 1.6 } },
    minorTick: { show: true, splitNumber: 6, length: 5, lineStyle: { color: '#2a2a2a', width: 1.3 } },
    splitLine: { show: false }, minorSplitLine: { show: false },
    axisLabel: {
      show: last, margin: 18, fontFamily: SERIF, fontSize: 25, color: INK,
      showMinLabel: true, showMaxLabel: true,
      formatter: v => TIME_LABELS[Math.round(v / 12)]
    }
  });
  yAxes.push({
    type: 'value', gridIndex: gi, min: p.min, max: p.max,
    name: p.name, nameLocation: 'middle', nameRotate: 90, nameGap: 84,
    nameTextStyle: {
      color: INK,
      rich: {
        m: { fontFamily: 'DejaVu Sans', fontStyle: 'italic', fontSize: 24, lineHeight: 30, color: INK },
        sb: { fontFamily: 'DejaVu Sans', fontStyle: 'italic', fontSize: 16, lineHeight: 16, verticalAlign: 'bottom', color: INK }
      }
    },
    axisLine: { show: true, onZero: false, lineStyle: { color: '#2a2a2a', width: 1.6 } },
    axisTick: { show: true, length: 9, customValues: p.ticks, lineStyle: { color: '#2a2a2a', width: 1.6 } },
    axisLabel: { customValues: p.ticks, formatter: fmtTick(p.dec), fontFamily: SERIF, fontSize: 25, color: INK, margin: 22 },
    splitLine: { show: false }
  });

  // uncertainty envelopes
  series.push(bandSeries(p.fri, 4, 5, 'fri10', C_FRI10, gi));
  series.push(bandSeries(p.fri, 2, 3, 'fri5', C_FRI5, gi));
  series.push(bandSeries(p.sph, 4, 5, 'sph10', C_SPH10, gi));
  series.push(bandSeries(p.sph, 2, 3, 'sph5', C_SPH5, gi));

  // measurements and model centre lines
  series.push({
    type: 'line', name: 'OMNI data', xAxisIndex: gi, yAxisIndex: gi, data: p.omni,
    symbol: 'none', showSymbol: false, z: 3,
    lineStyle: { color: C_OMNI, width: 2.2 }, itemStyle: { color: C_OMNI }
  });
  series.push({
    type: 'line', name: 'FRi3D', xAxisIndex: gi, yAxisIndex: gi, data: p.fri.map(r => [r[0], r[1]]),
    symbol: 'none', showSymbol: false, smooth: 0.3, z: 4,
    lineStyle: { color: C_FRI, width: 2 }, itemStyle: { color: C_FRI }
  });
  series.push({
    type: 'line', name: 'Spheromak', xAxisIndex: gi, yAxisIndex: gi, data: p.sph.map(r => [r[0], r[1]]),
    symbol: 'none', showSymbol: false, smooth: 0.3, z: 5,
    lineStyle: { color: C_SPH, width: 2 }, itemStyle: { color: C_SPH }
  });
});

// ---- legend: one entry per component so each sits at its own slot ----
const sigmaLabel = deg => '{s|\u03c3}{sb|\u03b8,\u03d5}{t| = \u00b1 ' + deg + '}{sp|o}';
const LEGEND_TEXT = {
  'OMNI data': 'OMNI data', 'FRi3D': 'FRi3D', 'Spheromak': 'Spheromak',
  'fri5': sigmaLabel(5), 'fri10': sigmaLabel(10), 'sph5': sigmaLabel(5), 'sph10': sigmaLabel(10)
};
const legendRich = {
  s: { fontFamily: SERIF, fontStyle: 'italic', fontSize: 23, lineHeight: 28, color: INK },
  sb: { fontFamily: SERIF, fontStyle: 'italic', fontSize: 15, lineHeight: 15, verticalAlign: 'bottom', color: INK },
  t: { fontFamily: SERIF, fontSize: 23, lineHeight: 28, color: INK },
  sp: { fontFamily: SERIF, fontStyle: 'italic', fontSize: 15, lineHeight: 15, verticalAlign: 'top', color: INK }
};
// [series name, icon left edge, icon height]
const legendSlots = [
  ['OMNI data', 356, 2.5], ['FRi3D', 554, 2.5], ['Spheromak', 691, 2.5],
  ['fri5', 906, 17], ['fri10', 1102, 17], ['sph5', 1307, 17], ['sph10', 1502, 17]
];
const legends = legendSlots.map(([name, x, h]) => ({
  left: x, top: 8, height: 28, padding: 0, itemGap: 0, itemWidth: 38, itemHeight: h, selectedMode: false,
  data: [{ name, icon: 'rect' }],
  formatter: n => LEGEND_TEXT[n],
  textStyle: { fontFamily: SERIF, fontSize: 23, lineHeight: 28, color: INK, padding: [0, 0, 0, 9], rich: legendRich }
}));

// ---- arrows pointing at features ----
function arrowGraphic(tip, tail) {
  const dx = tip[0] - tail[0], dy = tip[1] - tail[1];
  const len = Math.hypot(dx, dy);
  const ux = dx / len, uy = dy / len, nx = -uy, ny = ux;
  const L = 22, W = 9;
  const bx = tip[0] - ux * L, by = tip[1] - uy * L;
  const start = [tail[0] - ux * 60, tail[1] - uy * 60];
  return [
    { type: 'line', silent: true, z: 100, shape: { x1: start[0], y1: start[1], x2: bx + ux * 2, y2: by + uy * 2 },
      style: { stroke: ARROW, lineWidth: 4.5 } },
    { type: 'polygon', silent: true, z: 100, shape: { points: [tip, [bx + nx * W, by + ny * W], [bx - nx * W, by - ny * W]] },
      style: { fill: ARROW } }
  ];
}
const arrowSpecs = [
  [[794, 137], [1754, 483]],
  [[1152, 870], [1754, 783]],
  [[1244, 1016], [1754, 810]],
  [[1355, 928], [1754, 1101]]
];
const graphics = [
  { type: 'rect', silent: true, z: -1, shape: { x: 347, y: 3.5, width: 1331, height: 41, r: 6 },
    style: { fill: 'rgba(255,255,255,0.85)', stroke: '#cfcfcf', lineWidth: 1.5 } },
  { type: 'text', silent: true, left: 125, top: 1140,
    style: { text: '1e\u221210', fontFamily: SERIF, fontSize: 33, fill: INK } }
];
arrowSpecs.forEach(([tip, tail]) => graphics.push(...arrowGraphic(tip, tail)));

const chart = echarts.init(document.getElementById('chart'), null, { renderer: 'canvas' });
chart.setOption({
  animation: false,
  backgroundColor: '#ffffff',
  grid: grids, xAxis: xAxes, yAxis: yAxes,
  legend: legends,
  series,
  graphic: graphics
});
</script>
</body>
</html>
